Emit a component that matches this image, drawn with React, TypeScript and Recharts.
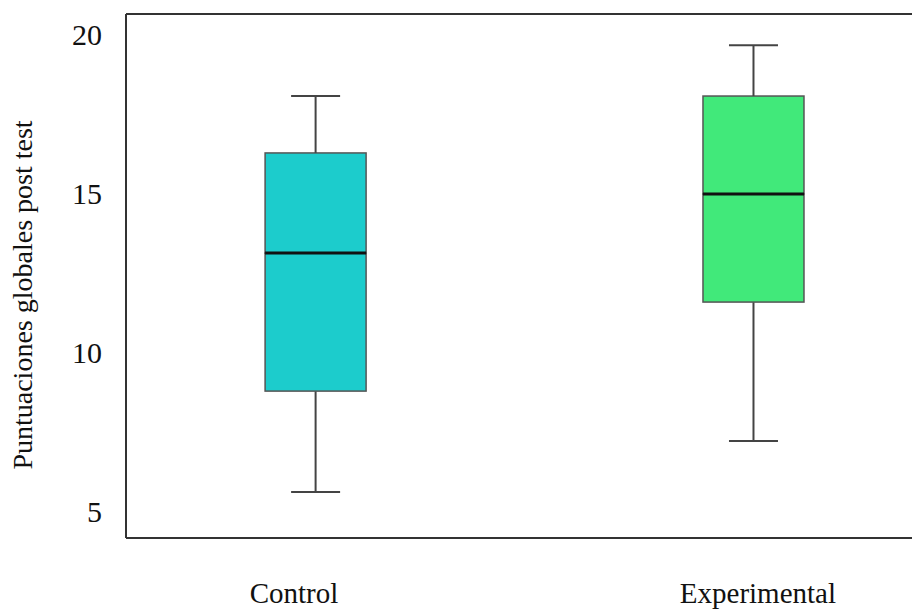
import React from 'react';
import { ComposedChart, Bar, XAxis, YAxis, ReferenceLine } from 'recharts';

// Five-number summaries per group
const groups = ['Control', 'Experimental'];
const mins = [5.6, 7.2];
const q1s = [8.77, 11.57];
const medians = [13.11, 14.97];
const q3s = [16.26, 18.05];
const maxs = [18.05, 19.65];
const boxColors = ['#1ccccc', '#41e97a'];
const yTicks = [5, 10, 15, 20];

const Y_MIN = 4.15;
const Y_MAX = 20.63;
const X_MIN = 0.566;
const X_MAX = 2.361;

const FONT = '"Liberation Serif", "Times New Roman", serif';
const LINE = '#444';
const CAP = 49;

// stacked segments: invisible base, lower whisker, lower half box, upper half box, upper whisker
const rows = groups.map((name, i) => ({
  pos: i + 1,
  name,
  color: boxColors[i],
  base: mins[i],
  lowWhisker: q1s[i] - mins[i],
  lowBox: medians[i] - q1s[i],
  highBox: q3s[i] - medians[i],
  highWhisker: maxs[i] - q3s[i],
}));

const Hidden = () => <g />;

const LowWhisker = (p: any) => {
  const cx = p.x + p.width / 2;
  const bottom = p.y + p.height;
  return (
    <g>
      <line x1={cx} x2={cx} y1={p.y} y2={bottom} stroke={LINE} strokeWidth={2} />
      <line x1={cx - CAP / 2} x2={cx + CAP / 2} y1={bottom} y2={bottom} stroke={LINE} strokeWidth={2} />
    </g>
  );
};

const HighWhisker = (p: any) => {
  const cx = p.x + p.width / 2;
  return (
    <g>
      <line x1={cx} x2={cx} y1={p.y} y2={p.y + p.height} stroke={LINE} strokeWidth={2} />
      <line x1={cx - CAP / 2} x2={cx + CAP / 2} y1={p.y} y2={p.y} stroke={LINE} strokeWidth={2} />
    </g>
  );
};

const LowBox = (p: any) => (
  <rect x={p.x} y={p.y} width={p.width} height={p.height} fill={p.payload.color} stroke="#555" strokeWidth={1.5} />
);

// upper half also carries the median line so it sits on top of both halves
const HighBox = (p: any) => {
  const bottom = p.y + p.height;
  return (
    <g>
      <rect x={p.x} y={p.y} width={p.width} height={p.height} fill={p.payload.color} stroke="#555" strokeWidth={1.5} />
      <line x1={p.x} x2={p.x + p.width} y1={bottom} y2={bottom} stroke="#111" strokeWidth={3} />
    </g>
  );
};

const labelShift: Record<number, number> = { 1: -22, 2: 4 };

const GroupTick = ({ x, y, payload }: any) => (
  <text
    x={x + (labelShift[payload.value] ?? 0)}
    y={y}
    dy="0.71em"
    textAnchor="middle"
    fontFamily={FONT}
    fontSize={29}
    fill="#111"
  >
    {groups[payload.value - 1]}
  </text>
);

const YTitle = () => (
  <text
    x={32}
    y={295}
    transform="rotate(-90 32 295)"
    textAnchor="middle"
    fontFamily={FONT}
    fontSize={28}
    fill="#111"
  >
    Puntuaciones globales post test
  </text>
);

export default function App() {
  return (
    <div style={{ position: 'absolute', left: 0, top: 0, width: 912, height: 609, overflow: 'hidden', background: '#fff' }}>
      <ComposedChart
        width={912}
        height={609}
        data={rows}
        margin={{ top: 14, right: 0, bottom: 0, left: 0 }}
      >
        <XAxis
          type="number"
          dataKey="pos"
          domain={[X_MIN, X_MAX]}
          ticks={[1, 2]}
          tickCount={2}
          allowDataOverflow
          height={71}
          tickLine={false}
          tickSize={0}
          tickMargin={44}
          axisLine={{ stroke: '#333', strokeWidth: 2 }}
          tick={<GroupTick />}
        />
        <YAxis
          type="number"
          domain={[Y_MIN, Y_MAX]}
          ticks={yTicks}
          allowDataOverflow
          width={126}
          tickLine={false}
          tickSize={0}
          tickMargin={24}
          axisLine={{ stroke: '#333', strokeWidth: 2 }}
          tick={{ fontFamily: FONT, fontSize: 30, fill: '#111' }}
          label={{ content: () => <YTitle /> }}
        />
        <ReferenceLine y={Y_MAX} stroke="#333" strokeWidth={2} ifOverflow="extendDomain" />
        <Bar dataKey="base" stackId="box" barSize={101} shape={<Hidden />} isAnimationActive={false} />
        <Bar dataKey="lowWhisker" stackId="box" barSize={101} shape={<LowWhisker />} isAnimationActive={false} />
        <Bar dataKey="lowBox" stackId="box" barSize={101} shape={<LowBox />} isAnimationActive={false} />
        <Bar dataKey="highBox" stackId="box" barSize={101} shape={<HighBox />} isAnimationActive={false} />
        <Bar dataKey="highWhisker" stackId="box" barSize={101} shape={<HighWhisker />} isAnimationActive={false} />
      </ComposedChart>
    </div>
  );
}
